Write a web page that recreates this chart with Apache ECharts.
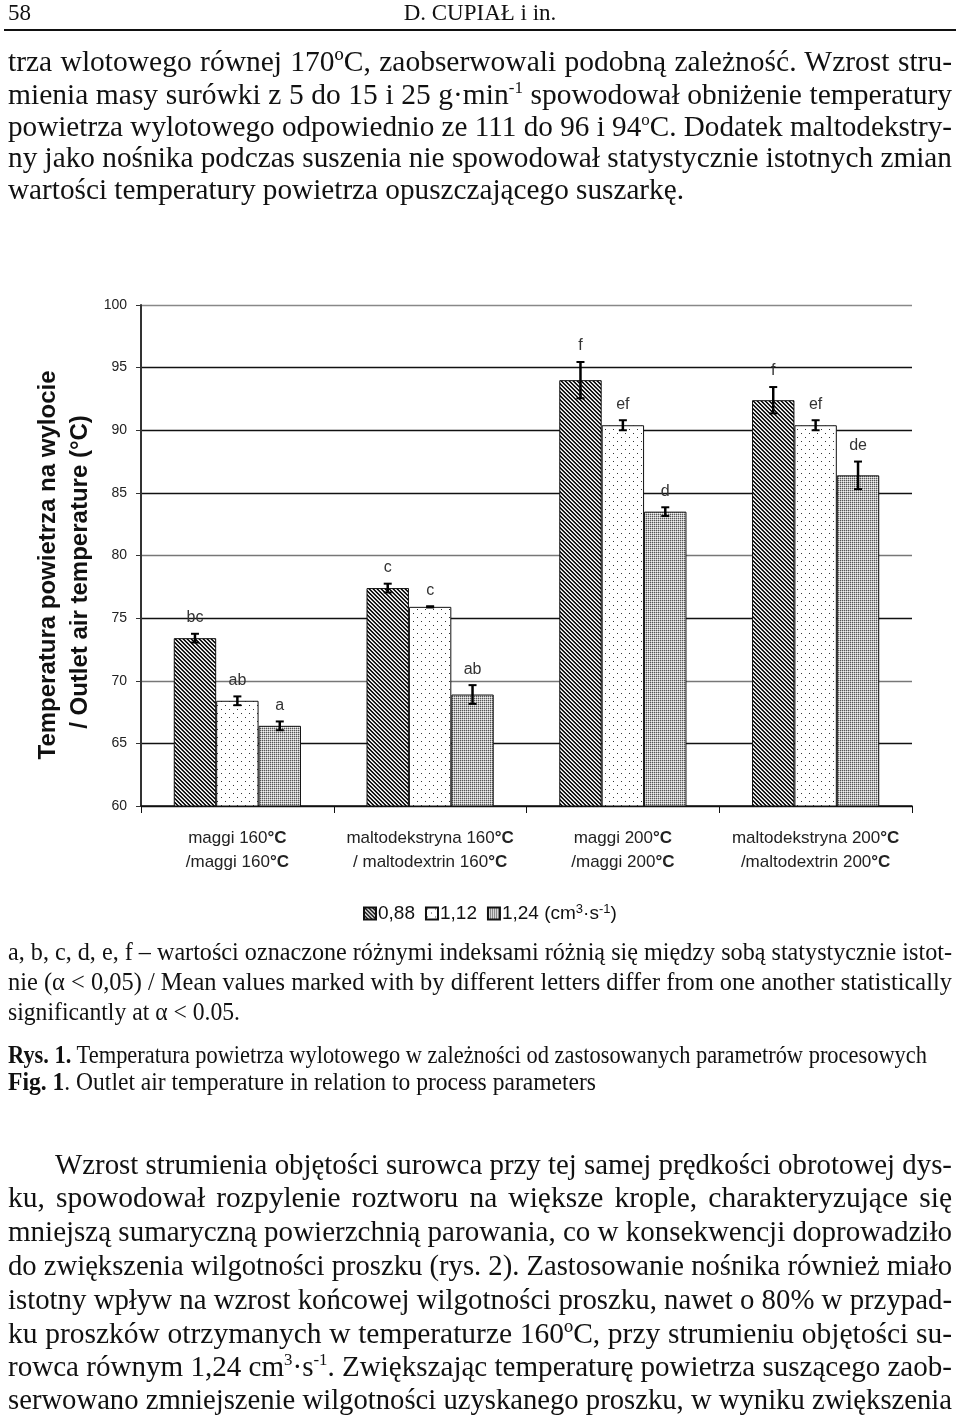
<!DOCTYPE html>
<html><head><meta charset="utf-8">
<script src="https://cdn.jsdelivr.net/npm/echarts@6/dist/echarts.min.js"></script>
<style>
html,body{margin:0;padding:0;background:#fff;}
#page{position:relative;width:960px;height:1422px;overflow:hidden;font-family:"Liberation Serif","Times New Roman",serif;color:#111;}
#chart{position:absolute;left:0;top:0;width:960px;height:1422px;}
.ln{position:absolute;white-space:nowrap;line-height:1.2;transform-origin:0 50%;}
.ln span.t{display:inline-block;}
.body{font-size:29.5px;}
.small{font-size:25.5px;}
.head{font-size:23px;}
sup{font-size:58%;line-height:0;vertical-align:0.62em;}
#rule{position:absolute;left:4px;width:952px;top:29px;height:2px;background:#111;}
</style></head>
<body><div id="page">
<div id="chart"></div>
<div class="ln head" style="left:8px;top:-1px;">58</div>
<div class="ln head" style="left:0;width:960px;text-align:center;top:-1px;">D. CUPIAŁ i in.</div>
<div id="rule"></div>

<div class="ln body fit" data-l="8" data-r="952" data-c="63">trza wlotowego równej 170ºC, zaobserwowali podobną zależność. Wzrost stru-</div>
<div class="ln body fit" data-l="8" data-r="952" data-c="96">mienia masy surówki z 5 do 15 i 25 g·min<sup>-1</sup> spowodował obniżenie temperatury</div>
<div class="ln body fit" data-l="8" data-r="952" data-c="128">powietrza wylotowego odpowiednio ze 111 do 96 i 94<sup>o</sup>C. Dodatek maltodekstry-</div>
<div class="ln body fit" data-l="8" data-r="952" data-c="159">ny jako nośnika podczas suszenia nie spowodował statystycznie istotnych zmian</div>
<div class="ln body fit" data-l="8" data-r="684" data-c="191">wartości temperatury powietrza opuszczającego suszarkę.</div>

<div class="ln small fit" data-l="8" data-r="952" data-c="954">a, b, c, d, e, f – wartości oznaczone różnymi indeksami różnią się między sobą statystycznie istot-</div>
<div class="ln small fit" data-l="8" data-r="952" data-c="984">nie (α &lt; 0,05) / Mean values marked with by different letters differ from one another statistically</div>
<div class="ln small fit" data-l="8" data-r="240" data-c="1014">significantly at α &lt; 0.05.</div>
<div class="ln small fit" data-l="8" data-r="927" data-c="1057"><b>Rys. 1.</b> Temperatura powietrza wylotowego w zależności od zastosowanych parametrów procesowych</div>
<div class="ln small fit" data-l="8" data-r="596" data-c="1084"><b>Fig. 1</b>. Outlet air temperature in relation to process parameters</div>

<div class="ln body fit" data-l="55" data-r="952" data-c="1166">Wzrost strumienia objętości surowca przy tej samej prędkości obrotowej dys-</div>
<div class="ln body fit" data-l="8" data-r="952" data-c="1199">ku, spowodował rozpylenie roztworu na większe krople, charakteryzujące się</div>
<div class="ln body fit" data-l="8" data-r="952" data-c="1233">mniejszą sumaryczną powierzchnią parowania, co w konsekwencji doprowadziło</div>
<div class="ln body fit" data-l="8" data-r="952" data-c="1267">do zwiększenia wilgotności proszku (rys. 2). Zastosowanie nośnika również miało</div>
<div class="ln body fit" data-l="8" data-r="952" data-c="1301">istotny wpływ na wzrost końcowej wilgotności proszku, nawet o 80% w przypad-</div>
<div class="ln body fit" data-l="8" data-r="952" data-c="1335">ku proszków otrzymanych w temperaturze 160ºC, przy strumieniu objętości su-</div>
<div class="ln body fit" data-l="8" data-r="952" data-c="1368">rowca równym 1,24 cm<sup>3</sup>·s<sup>-1</sup>. Zwiększając temperaturę powietrza suszącego zaob-</div>
<div class="ln body fit" data-l="8" data-r="952" data-c="1401">serwowano zmniejszenie wilgotności uzyskanego proszku, w wyniku zwiększenia</div>
</div>
<script>
// ---- data ----
const categories = [
  'maggi 160°C\n/maggi 160°C',
  'maltodekstryna 160°C\n/ maltodextrin 160°C',
  'maggi 200°C\n/maggi 200°C',
  'maltodekstryna 200°C\n/maltodextrin 200°C'
];
const seriesNames = ['0,88', '1,12', '1,24'];
const values088 = [73.4, 77.4, 94.0, 92.4];
const values112 = [68.4, 75.9, 90.4, 90.4];
const values124 = [66.4, 68.9, 83.5, 86.4];
const err088 = [0.35, 0.35, 1.45, 1.05];
const err112 = [0.35, 0.05, 0.4, 0.4];
const err124 = [0.35, 0.75, 0.35, 1.1];
const letters088 = ['bc', 'c', 'f', 'f'];
const letters112 = ['ab', 'c', 'ef', 'ef'];
const letters124 = ['a', 'ab', 'd', 'de'];
const yAxisTitle1 = 'Temperatura powietrza na wylocie';
const yAxisTitle2 = '/ Outlet air temperature (°C)';

// ---- text line fitting (justify / condense to measured extents) ----
document.querySelectorAll('.fit').forEach(el => {
  const l = +el.dataset.l, r = +el.dataset.r, c = +el.dataset.c;
  el.innerHTML = '<span class="t">' + el.innerHTML + '</span>';
  const span = el.firstChild;
  const fs = parseFloat(getComputedStyle(el).fontSize);
  el.style.left = l + 'px';
  el.style.top = (c - 0.66 * fs) + 'px';
  const target = r - l;
  const w = span.getBoundingClientRect().width;
  const spaces = (el.textContent.match(/ /g) || []).length;
  if (w > target) {
    el.style.transform = 'scaleX(' + (target / w) + ')';
  } else if (spaces > 0) {
    el.style.wordSpacing = ((target - w) / spaces) + 'px';
  }
});

// ---- patterns ----
function makePattern(size, fn) {
  const c = document.createElement('canvas');
  c.width = size; c.height = size;
  const ctx = c.getContext('2d');
  ctx.fillStyle = '#fff'; ctx.fillRect(0, 0, size, size);
  for (let y = 0; y < size; y++) for (let x = 0; x < size; x++) {
    const col = fn(x, y);
    if (col) { ctx.fillStyle = col; ctx.fillRect(x, y, 1, 1); }
  }
  return { image: c, repeat: 'repeat' };
}
const patHatch = makePattern(4, (x, y) => {
  const d = ((x - y) % 4 + 4) % 4;
  return d === 0 ? '#000' : (d === 1 ? '#333' : (d === 3 ? '#bbb' : null));
});
const patDots = makePattern(8, (x, y) => ((x === 1 && y === 1) || (x === 5 && y === 5)) ? '#333' : null);
const patFine = makePattern(2, (x, y) => (x === 0 && y === 0) ? '#555' : ((x + y) === 1 ? '#bdbdbd' : '#f2f2f2'));
const patterns = [patHatch, patDots, patFine];

const allValues = [values088, values112, values124];
const allErr = [err088, err112, err124];
const allLetters = [letters088, letters112, letters124];
const BAR_FRAC = 0.22;

const errData = [];
const errLetters = [];
for (let k = 0; k < 3; k++) for (let i = 0; i < categories.length; i++) {
  errData.push([i, allValues[k][i], allErr[k][i], k]);
  errLetters.push(allLetters[k][i]);
}

function renderErr(params, api) {
  const cat = api.value(0), v = api.value(1), e = api.value(2), k = api.value(3);
  const bw = api.size([1, 0])[0] * BAR_FRAC;
  const x = api.coord([cat, v])[0] + (k - 1) * bw;
  const yT = api.coord([cat, v + e])[1];
  const yB = api.coord([cat, v - e])[1];
  const cap = 4;
  return {
    type: 'group',
    children: [
      { type: 'line', shape: { x1: x, y1: yT, x2: x, y2: yB }, style: { stroke: '#000', lineWidth: 2.5 } },
      { type: 'line', shape: { x1: x - cap, y1: yT, x2: x + cap, y2: yT }, style: { stroke: '#000', lineWidth: 2 } },
      { type: 'line', shape: { x1: x - cap, y1: yB, x2: x + cap, y2: yB }, style: { stroke: '#000', lineWidth: 2 } },
      { type: 'text', style: { text: errLetters[params.dataIndex], x: x, y: yT - 8, align: 'center', verticalAlign: 'bottom',
          font: '16px "Liberation Sans", Arial, sans-serif', fill: '#333' } }
    ]
  };
}

const FONT = '"Liberation Sans", Arial, sans-serif';
const chart = echarts.init(document.getElementById('chart'), null, { renderer: 'canvas' });
const barSeries = seriesNames.map((n, k) => ({
  name: n, type: 'bar', data: allValues[k], barWidth: (BAR_FRAC * 100) + '%', barGap: '0%',
  itemStyle: { color: patterns[k], borderColor: '#111', borderWidth: 1 },
  animation: false
}));

chart.setOption({
  animation: false,
  backgroundColor: 'transparent',
  grid: { left: 141, right: 48, top: 305, bottom: 1422 - 806, containLabel: false },
  legend: {
    data: seriesNames, left: 358, top: 898, itemWidth: 12, itemHeight: 12, itemGap: 10,
    icon: 'rect',
    formatter: name => name === seriesNames[2] ? name + ' (cm{sup|3}·s{sup|-1})' : name,
    textStyle: {
      fontFamily: FONT, fontSize: 19, color: '#111', padding: [0, 0, 0, -3],
      rich: { sup: { fontFamily: FONT, fontSize: 13, color: '#111', verticalAlign: 'top', padding: [0, 0, 8, 0] } }
    }
  },
  xAxis: {
    type: 'category', data: categories,
    axisLine: { lineStyle: { color: '#111', width: 1.5 } },
    axisTick: { show: true, length: 7, lineStyle: { color: '#111' } },
    axisLabel: {
      interval: 0, margin: 20, lineHeight: 24, fontSize: 17, color: '#222', fontFamily: FONT,
      formatter: v => v.replace(/°C/g, '{b|°C}'),
      rich: { b: { fontWeight: 'bold', fontSize: 17, color: '#222', fontFamily: FONT, lineHeight: 24 } }
    }
  },
  yAxis: {
    type: 'value', min: 60, max: 100, interval: 5,
    axisLine: { show: true, lineStyle: { color: '#333', width: 2 } },
    axisTick: { show: true, length: 5, lineStyle: { color: '#333' } },
    axisLabel: { margin: 14, fontSize: 14, color: '#222', fontFamily: FONT },
    splitLine: { show: true, lineStyle: { width: 1.3, color: ['#111', '#111', '#777', '#111', '#777', '#111', '#111', '#111', '#888'] } }
  },
  graphic: [
    { type: 'text', x: 48, y: 565, rotation: Math.PI / 2,
      style: { text: yAxisTitle1, font: 'bold 24px ' + FONT, fill: '#111', align: 'center', verticalAlign: 'middle' } },
    { type: 'text', x: 80, y: 572, rotation: Math.PI / 2,
      style: { text: yAxisTitle2, font: 'bold 24px ' + FONT, fill: '#111', align: 'center', verticalAlign: 'middle' } }
  ],
  series: barSeries.concat([{
    type: 'custom', renderItem: renderErr, data: errData, z: 5, silent: true,
    encode: { x: 0, y: 1 }, animation: false
  }])
});
</script>
</body></html>
